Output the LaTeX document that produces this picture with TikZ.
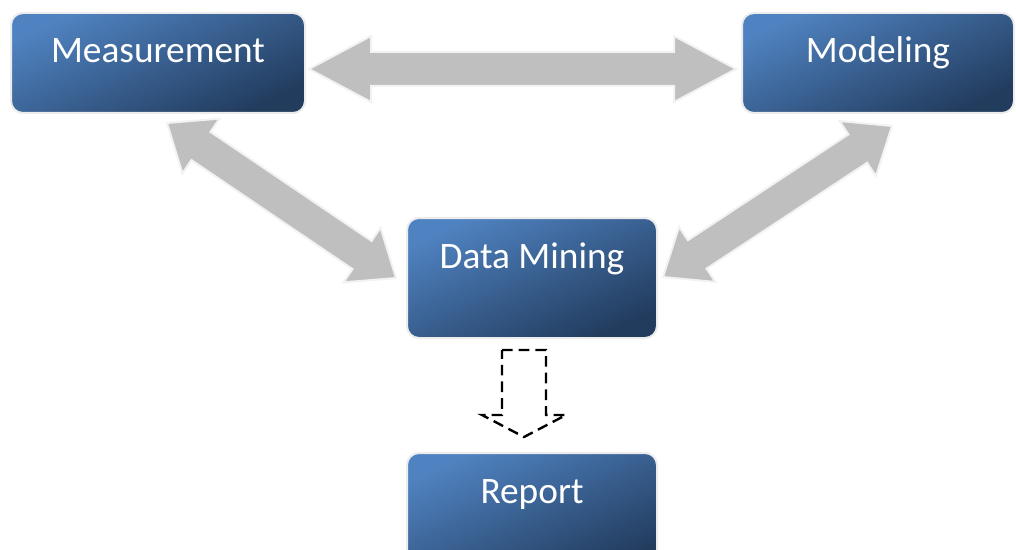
\documentclass[tikz,border=0pt]{standalone}
\usepackage{fontspec}
\setmainfont{Carlito}
\usetikzlibrary{calc}

\definecolor{boxlight}{RGB}{79,130,192}
\definecolor{boxdark}{RGB}{34,60,94}
\definecolor{boxedge}{RGB}{236,236,236}
\definecolor{arrowfill}{RGB}{191,191,191}
\definecolor{arrowedge}{RGB}{242,242,242}

% Block arrow with a head at both ends:
% #1, #2 = the two tips, #3 = head length, #4 = head half width, #5 = shaft half width
\newcommand{\twowayarrow}[5]{%
	\coordinate (h1) at ($(#1)!#3!(#2)$);
	\coordinate (h2) at ($(#2)!#3!(#1)$);
	\filldraw [blockarrow] (#1) -- ($(h1)!#4!90:(#1)$) -- ($(h1)!#5!90:(#1)$)
		-- ($(h2)!#5!-90:(#2)$) -- ($(h2)!#4!-90:(#2)$) -- (#2)
		-- ($(h2)!#4!90:(#2)$) -- ($(h2)!#5!90:(#2)$)
		-- ($(h1)!#5!-90:(#1)$) -- ($(h1)!#4!-90:(#1)$) -- cycle;
}

\begin{document}
\begin{tikzpicture}[x=0.75pt,y=-0.75pt,
	box/.style={rectangle, rounded corners=9pt, draw=boxedge, line width=1.5pt,
		top color=boxlight, bottom color=boxdark, shading angle=25,
		text=white, font=\fontsize{28pt}{33pt}\selectfont, inner sep=0pt},
	blockarrow/.style={fill=arrowfill, draw=arrowedge, line width=1.5pt, line join=miter},
	dasharrow/.style={draw=black, line width=1.8pt, dash pattern=on 8pt off 4.5pt},
]
	% Picture frame, the report box runs out of it at the bottom
	\path [use as bounding box, clip] (0,0) rectangle (1016,549);

	% Boxes:
	% the text sits on the middle in the upper row and higher in the lower row
	\node [box, minimum width=220.5pt, minimum height=75pt, text height=18pt, text depth=18pt] (meas) at (158,63) {Measurement};
	\node [box, minimum width=204pt, minimum height=75pt, text height=18pt, text depth=18pt] (model) at (878,63) {Modeling};
	\node [box, minimum width=187.5pt, minimum height=90pt, text height=18pt, text depth=33pt] (mine) at (532,278) {Data Mining};
	\node [box, minimum width=187.5pt, minimum height=90pt, text height=18pt, text depth=33pt] (report) at (532,513) {Report};

	% Tips of the grey arrows, just off the boxes
	\coordinate (meas-r) at ([shift={(3,6)}]meas.east);
	\coordinate (model-l) at ([shift={(-5,6)}]model.west);
	\coordinate (meas-b) at ([shift={(9,9)}]meas.south);
	\coordinate (mine-l) at ([shift={(-10,0)}]mine.west);
	\coordinate (model-b) at ([shift={(14,12)}]model.south);
	\coordinate (mine-r) at ([shift={(5,-1)}]mine.east);

	\twowayarrow{meas-r}{model-l}{46.5pt}{24.75pt}{12.75pt}
	\twowayarrow{meas-b}{mine-l}{30.75pt}{24.75pt}{12.75pt}
	\twowayarrow{model-b}{mine-r}{30.75pt}{24.75pt}{12.75pt}

	% Dashed outline arrow down to the report
	\coordinate (rep-tail) at ([shift={(-8,11)}]mine.south);
	\coordinate (rep-tip) at ([shift={(-8,-15)}]report.north);
	\draw [dasharrow] ($(rep-tail)+(-22,0)$) -- ($(rep-tail)+(22,0)$) -- ($(rep-tip)+(22,-22)$)
		-- ($(rep-tip)+(42,-22)$) -- (rep-tip) -- ($(rep-tip)+(-42,-22)$)
		-- ($(rep-tip)+(-22,-22)$) -- cycle;
\end{tikzpicture}
\end{document}
